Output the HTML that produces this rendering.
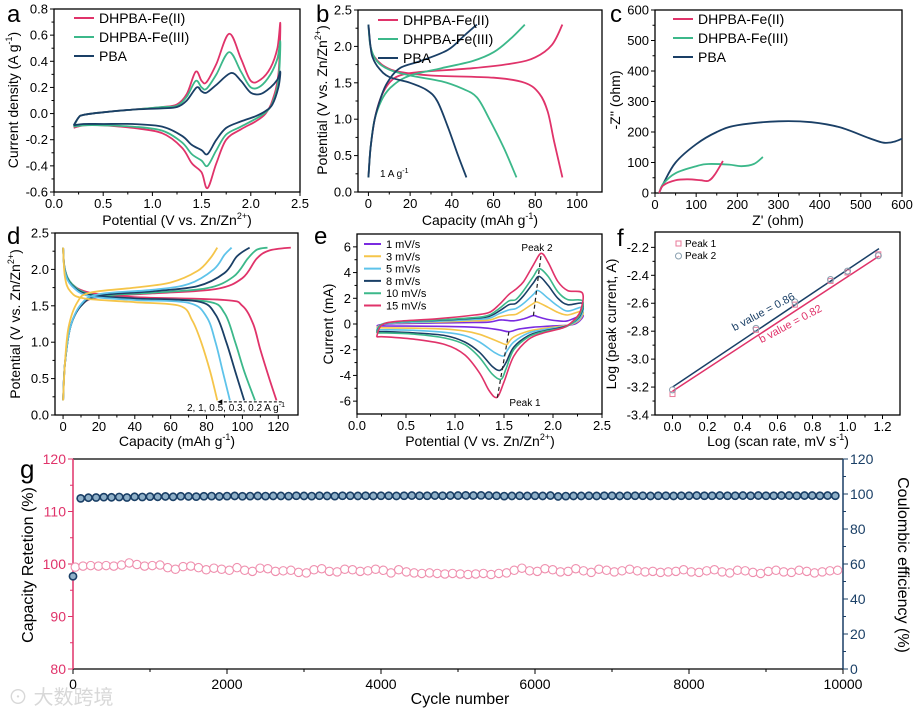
<!DOCTYPE html>
<html><head><meta charset="utf-8"><style>
body{margin:0;background:#fff;}
svg{display:block;font-family:"Liberation Sans","Noto Sans CJK SC",sans-serif;}
</style></head><body>
<svg id="fig" width="915" height="709" viewBox="0 0 915 709" xmlns="http://www.w3.org/2000/svg">
<rect width="915" height="709" fill="#fff"/>
<text x="8" y="704" font-size="20" fill="#d8d8d8">⊙ 大数跨境</text>
</svg>
<script>
const PINK='#e0336a',GREEN='#3cb88a',NAVY='#1a3f66',LBLUE='#5ec3ea',YEL='#f5c54a',PURP='#7a2be0';
// ---- panel a data ----
const aTicksX=[0,0.5,1,1.5,2,2.5], aTicksY=[-0.6,-0.4,-0.2,0,0.2,0.4,0.6,0.8];
const aFe2=[[0.2,-0.1],[0.25,-0.03],[0.3,-0.01],[0.5,0.01],[0.8,0.03],[1.1,0.05],[1.25,0.07],[1.35,0.15],[1.44,0.32],[1.5,0.25],[1.55,0.24],[1.65,0.38],[1.78,0.61],[1.9,0.42],[2.0,0.25],[2.1,0.26],[2.2,0.35],[2.27,0.5],[2.3,0.69],[2.28,0.3],[2.22,0.1],[2.15,0.0],[2.05,-0.06],[1.9,-0.12],[1.75,-0.2],[1.65,-0.38],[1.56,-0.57],[1.5,-0.45],[1.4,-0.38],[1.3,-0.26],[1.1,-0.15],[0.8,-0.11],[0.5,-0.09],[0.3,-0.09],[0.2,-0.11]];
const aFe3=[[0.2,-0.1],[0.25,-0.03],[0.3,-0.01],[0.5,0.01],[0.8,0.03],[1.1,0.05],[1.25,0.06],[1.35,0.13],[1.44,0.25],[1.5,0.2],[1.55,0.19],[1.65,0.3],[1.78,0.47],[1.9,0.32],[2.0,0.2],[2.1,0.21],[2.2,0.3],[2.27,0.42],[2.3,0.55],[2.28,0.25],[2.22,0.08],[2.15,0.01],[2.05,-0.04],[1.9,-0.1],[1.75,-0.16],[1.65,-0.28],[1.56,-0.4],[1.5,-0.36],[1.4,-0.31],[1.3,-0.22],[1.1,-0.13],[0.8,-0.1],[0.5,-0.09],[0.3,-0.09],[0.2,-0.1]];
const aPBA=[[0.2,-0.09],[0.25,-0.03],[0.3,-0.01],[0.5,0.01],[0.8,0.03],[1.1,0.04],[1.25,0.05],[1.35,0.1],[1.45,0.2],[1.5,0.17],[1.55,0.16],[1.65,0.22],[1.8,0.31],[1.9,0.25],[2.0,0.16],[2.1,0.15],[2.2,0.2],[2.27,0.26],[2.3,0.32],[2.28,0.2],[2.22,0.07],[2.15,0.02],[2.05,-0.02],[1.9,-0.06],[1.75,-0.11],[1.65,-0.2],[1.56,-0.31],[1.5,-0.28],[1.4,-0.24],[1.3,-0.17],[1.1,-0.1],[0.8,-0.08],[0.5,-0.08],[0.3,-0.08],[0.2,-0.09]];
// ---- panel b data ----
const bTicksX=[0,20,40,60,80,100], bTicksY=[0,0.5,1,1.5,2,2.5];
const bFe2C=[[0,0.2],[1,0.6],[3,1.0],[6,1.3],[10,1.5],[15,1.6],[25,1.65],[50,1.7],[70,1.77],[80,1.85],[88,2.02],[93,2.3]];
const bFe2D=[[0,2.3],[1,2.0],[3,1.85],[8,1.72],[15,1.65],[30,1.6],[60,1.57],[75,1.5],[82,1.35],[86,1.1],[89,0.7],[93,0.2]];
const bFe3C=[[0,0.2],[1,0.6],[3,1.0],[7,1.3],[12,1.47],[20,1.6],[35,1.7],[50,1.8],[60,1.92],[68,2.1],[75,2.3]];
const bFe3D=[[0,2.3],[1,2.0],[4,1.8],[10,1.68],[20,1.6],[35,1.52],[45,1.42],[52,1.3],[58,1.0],[65,0.6],[71,0.2]];
const bPBAC=[[0,0.2],[1,0.6],[3,1.0],[6,1.3],[9,1.5],[15,1.7],[25,1.8],[38,1.95],[46,2.15],[52,2.3]];
const bPBAD=[[0,2.3],[1,2.0],[2,1.85],[5,1.7],[10,1.58],[20,1.5],[28,1.4],[33,1.25],[38,0.9],[43,0.5],[47,0.2]];
// ---- panel c data ----
const cTicksX=[0,100,200,300,400,500,600], cTicksY=[0,100,200,300,400,500,600];
const cPBA=[[10,0],[20,30],[50,100],[100,160],[150,200],[200,222],[300,235],[380,232],[450,215],[520,180],[555,165],[580,168],[600,178]];
const cFe3=[[10,0],[20,30],[50,65],[100,88],[130,95],[180,93],[210,88],[240,95],[262,118]];
const cFe2=[[10,0],[20,25],[50,42],[80,45],[110,42],[130,40],[145,60],[165,105]];
// ---- panel d data ----
const dTicksX=[0,20,40,60,80,100,120], dTicksY=[0,0.5,1,1.5,2,2.5];
const d02D=[[0,2.3],[1,2.0],[5,1.8],[15,1.68],[40,1.62],[90,1.58],[100,1.5],[106,1.25],[110,0.9],[115,0.5],[119,0.2]];
const d02C=[[0,0.2],[1,0.7],[4,1.2],[10,1.5],[20,1.62],[50,1.67],[85,1.73],[100,1.88],[108,2.15],[115,2.26],[127,2.3]];
const d03D=[[0,2.3],[1,2.0],[5,1.8],[15,1.66],[40,1.6],[80,1.56],[90,1.4],[96,1.0],[101,0.6],[107,0.2]];
const d03C=[[0,0.2],[1,0.7],[4,1.2],[10,1.5],[20,1.63],[50,1.68],[80,1.74],[95,1.9],[103,2.15],[108,2.27],[114,2.3]];
const d05D=[[0,2.3],[1,1.98],[5,1.78],[15,1.65],[40,1.6],[75,1.56],[85,1.38],[91,1.0],[96,0.6],[101,0.2]];
const d05C=[[0,0.2],[1,0.7],[4,1.2],[10,1.5],[20,1.64],[50,1.7],[75,1.77],[90,1.95],[97,2.18],[104,2.3]];
const d1D=[[0,2.3],[1,1.97],[5,1.77],[15,1.63],[40,1.58],[70,1.54],[80,1.35],[85,1.0],[89,0.6],[93,0.2]];
const d1C=[[0,0.2],[1,0.7],[4,1.2],[10,1.52],[20,1.66],[50,1.72],[70,1.8],[84,2.0],[90,2.2],[94,2.3]];
const d2D=[[0,2.3],[1,1.9],[4,1.7],[12,1.6],[40,1.55],[65,1.5],[72,1.3],[77,1.0],[82,0.6],[86,0.2]];
const d2C=[[0,0.2],[1,0.7],[3,1.2],[8,1.55],[15,1.68],[40,1.75],[60,1.82],[75,1.98],[82,2.15],[86,2.3]];
// ---- panel e data ----
const eTicksX=[0,0.5,1,1.5,2,2.5], eTicksY=[-6,-4,-2,0,2,4,6];
const e15=[[0.2,-1.0],[0.25,-0.1],[0.4,0.2],[0.8,0.4],[1.2,0.7],[1.35,0.9],[1.45,1.5],[1.55,2.3],[1.62,2.7],[1.7,3.3],[1.8,4.6],[1.88,5.5],[1.95,4.8],[2.05,3.3],[2.15,2.6],[2.3,2.4],[2.28,1.0],[2.2,0.2],[2.1,-0.3],[1.9,-0.7],[1.75,-1.2],[1.6,-2.5],[1.5,-4.5],[1.43,-5.7],[1.35,-5.2],[1.25,-3.8],[1.1,-2.4],[0.9,-1.6],[0.6,-1.2],[0.3,-1.0],[0.2,-1.0]];
const e10=[[0.2,-0.7],[0.25,-0.05],[0.4,0.15],[0.8,0.3],[1.2,0.5],[1.35,0.7],[1.45,1.2],[1.55,1.8],[1.62,1.9],[1.7,2.6],[1.8,3.7],[1.86,4.3],[1.95,3.7],[2.05,2.5],[2.15,1.9],[2.3,1.8],[2.28,0.8],[2.2,0.1],[2.1,-0.3],[1.9,-0.6],[1.75,-1.0],[1.6,-2.0],[1.52,-3.5],[1.47,-4.3],[1.38,-3.9],[1.25,-2.6],[1.1,-1.6],[0.9,-1.1],[0.6,-0.8],[0.3,-0.7],[0.2,-0.7]];
const e8=[[0.2,-0.6],[0.25,-0.05],[0.4,0.15],[0.8,0.28],[1.2,0.45],[1.35,0.6],[1.45,1.0],[1.55,1.5],[1.62,1.6],[1.7,2.2],[1.8,3.2],[1.86,3.7],[1.95,3.0],[2.05,2.0],[2.15,1.5],[2.3,1.6],[2.28,0.7],[2.2,0.1],[2.1,-0.25],[1.9,-0.55],[1.75,-0.9],[1.6,-1.8],[1.52,-3.0],[1.46,-3.6],[1.38,-3.3],[1.25,-2.2],[1.1,-1.4],[0.9,-0.9],[0.6,-0.7],[0.3,-0.6],[0.2,-0.6]];
const e5=[[0.2,-0.45],[0.25,-0.05],[0.4,0.1],[0.8,0.2],[1.2,0.35],[1.35,0.45],[1.45,0.8],[1.55,1.1],[1.62,1.2],[1.7,1.6],[1.8,2.3],[1.85,2.6],[1.95,2.0],[2.05,1.4],[2.15,1.0],[2.3,1.3],[2.28,0.5],[2.2,0.05],[2.1,-0.2],[1.9,-0.45],[1.75,-0.7],[1.6,-1.4],[1.53,-2.1],[1.49,-2.5],[1.4,-2.2],[1.25,-1.4],[1.1,-0.9],[0.9,-0.65],[0.6,-0.5],[0.3,-0.45],[0.2,-0.45]];
const e3=[[0.2,-0.3],[0.25,-0.05],[0.4,0.08],[0.8,0.15],[1.2,0.25],[1.35,0.3],[1.45,0.55],[1.55,0.7],[1.62,0.75],[1.7,1.1],[1.8,1.6],[1.84,1.7],[1.95,1.3],[2.05,0.9],[2.15,0.7],[2.3,1.0],[2.28,0.4],[2.2,0.0],[2.1,-0.15],[1.9,-0.35],[1.75,-0.55],[1.6,-1.0],[1.55,-1.4],[1.52,-1.6],[1.42,-1.3],[1.25,-0.8],[1.1,-0.55],[0.9,-0.4],[0.6,-0.33],[0.3,-0.3],[0.2,-0.3]];
const e1=[[0.2,-0.15],[0.25,-0.05],[0.4,0.03],[0.8,0.08],[1.2,0.12],[1.35,0.15],[1.45,0.3],[1.5,0.3],[1.6,0.25],[1.7,0.4],[1.8,0.65],[1.85,0.55],[1.95,0.35],[2.05,0.25],[2.15,0.25],[2.3,0.7],[2.28,0.3],[2.2,-0.05],[2.0,-0.15],[1.8,-0.25],[1.65,-0.4],[1.55,-0.6],[1.45,-0.45],[1.3,-0.3],[1.1,-0.22],[0.8,-0.18],[0.5,-0.16],[0.2,-0.15]];
const ePeak2Line=[[1.8,0.65],[1.88,5.5]], ePeak1Line=[[1.55,-0.6],[1.43,-5.8]];
// ---- panel f data ----
const fTicksX=[0,0.2,0.4,0.6,0.8,1.0,1.2], fTicksY=[-3.4,-3.2,-3.0,-2.8,-2.6,-2.4,-2.2];
const fLogRate=[0,0.477,0.699,0.903,1.0,1.176];
const fPeak1=[-3.25,-2.79,-2.61,-2.44,-2.38,-2.25];
const fPeak2=[-3.22,-2.78,-2.59,-2.43,-2.37,-2.26];
const fFit1=[-3.23,0.82], fFit2=[-3.2,0.84];
// ---- panel g data ----
const gTicksX=[0,2000,4000,6000,8000,10000], gTicksL=[80,90,100,110,120], gTicksR=[0,20,40,60,80,100,120];
const gRet=[99.4,99.6,99.7,99.6,99.7,99.6,99.8,100.2,99.9,99.6,99.7,99.8,99.3,99.0,99.5,99.6,99.3,98.9,99.2,99.0,98.8,99.3,98.8,98.6,99.2,99.1,98.6,98.7,98.8,98.4,98.3,98.9,99.1,98.6,98.5,99.0,98.9,98.6,98.7,99.0,98.8,98.3,98.9,98.5,98.3,98.2,98.3,98.2,98.1,98.2,98.1,98.0,98.1,98.2,98.0,98.2,98.3,98.8,99.2,98.7,98.6,99.1,98.9,98.5,98.6,99.1,98.7,98.4,99.0,98.8,98.5,98.7,99.0,98.7,98.5,98.6,98.4,98.5,98.6,98.9,98.5,98.4,98.7,98.9,98.5,98.3,98.8,98.7,98.4,98.2,98.6,98.8,98.5,98.4,98.8,98.6,98.3,98.5,98.7,98.8];
const gCE=[53,97.5,97.9,98.0,98.2,98.1,98.3,98.0,98.4,98.3,98.5,98.4,98.6,98.4,98.7,98.6,98.5,98.7,98.8,98.6,98.8,98.9,98.7,98.8,98.9,98.8,98.9,98.9,98.8,99.0,98.9,98.8,99.0,98.9,98.8,99.0,99.0,98.9,99.0,98.9,99.0,99.0,98.9,99.0,99.1,99.0,99.0,99.1,99.0,99.1,99.1,99.2,99.1,99.2,99.1,99.0,98.8,98.9,99.0,98.9,99.0,98.9,99.1,98.6,98.8,98.9,98.9,99.0,98.9,99.0,99.0,98.9,99.0,99.0,99.0,98.9,99.0,99.0,98.9,99.0,99.0,99.1,99.0,99.0,99.1,99.0,99.0,99.1,99.0,99.1,99.0,99.0,99.1,99.1,99.0,99.1,99.1,99.0,99.1,99.0];
const gStep=100;

const NS='http://www.w3.org/2000/svg';
const svg=document.getElementById('fig');
function el(tag,attrs,parent){const e=document.createElementNS(NS,tag);for(const k in attrs)e.setAttribute(k,attrs[k]);(parent||svg).appendChild(e);return e;}
function txt(s,x,y,size,anchor,parent,fill,rot){const t=el('text',{x:x,y:y,'font-size':size,'text-anchor':anchor||'middle',fill:fill||'#000'},parent);if(rot)t.setAttribute('transform','rotate('+rot+' '+x+' '+y+')');t.innerHTML=s;return t;}
function scale(d0,d1,p0,p1){return v=>p0+(v-d0)/(d1-d0)*(p1-p0);}
function crPath(pts){let d='M'+pts[0][0].toFixed(1)+','+pts[0][1].toFixed(1);for(let i=0;i<pts.length-1;i++){const p0=pts[Math.max(0,i-1)],p1=pts[i],p2=pts[i+1],p3=pts[Math.min(pts.length-1,i+2)];const c1=[p1[0]+(p2[0]-p0[0])/6,p1[1]+(p2[1]-p0[1])/6],c2=[p2[0]-(p3[0]-p1[0])/6,p2[1]-(p3[1]-p1[1])/6];d+='C'+c1[0].toFixed(1)+','+c1[1].toFixed(1)+' '+c2[0].toFixed(1)+','+c2[1].toFixed(1)+' '+p2[0].toFixed(1)+','+p2[1].toFixed(1);}return d;}
function curve(g,data,sx,sy,color,name,w){const p=el('path',{d:crPath(data.map(q=>[sx(q[0]),sy(q[1])])),fill:'none',stroke:color,'stroke-width':w||1.8},g);

return p;}
function axes(name,box,xd,yd,xt,yt,fmtX,fmtY){
 const g=el('g',{});
 
 
 const sx=scale(xd[0],xd[1],box[0],box[2]),sy=scale(yd[0],yd[1],box[3],box[1]);
 const fr=el('rect',{x:box[0],y:box[1],width:box[2]-box[0],height:box[3]-box[1],fill:'none',stroke:'#000','stroke-width':1.3},g);
 
 
 xt.forEach((v,i)=>{const x=sx(v);el('line',{x1:x,x2:x,y1:box[3],y2:box[3]+4,stroke:'#000'},g);
  if(i<xt.length-1){const xm=sx((v+xt[i+1])/2);el('line',{x1:xm,x2:xm,y1:box[3],y2:box[3]+2.5,stroke:'#000'},g);}
  const t=txt(fmtX(v),x,box[3]+16,13,'middle',g);
  
  });
 yt.forEach((v,i)=>{const y=sy(v);el('line',{x1:box[0],x2:box[0]-4,y1:y,y2:y,stroke:'#000'},g);
  if(i<yt.length-1){const ym=sy((v+yt[i+1])/2);el('line',{x1:box[0],x2:box[0]-2.5,y1:ym,y2:ym,stroke:'#000'},g);}
  const t=txt(fmtY(v),box[0]-6,y+4.5,13,'end',g);
  
  });
 return {g,sx,sy};
}
function legend(g,items,x,y,dy,len,size){items.forEach((it,i)=>{const yy=y+i*dy;const l=el('line',{x1:x,x2:x+len,y1:yy,y2:yy,stroke:it[1],'stroke-width':2},g);
 
 
 const t=txt(it[0],x+len+5,yy+size*0.36,size,'start',g);
 
 });}
const f1=v=>v.toFixed(1), f0=v=>String(v);
function label(s,x,y){const t=txt(s,x,y,24,'start');}

// Panel a
let A=axes('panel-a',[54,9,300,192],[0,2.5],[-0.6,0.8],aTicksX,aTicksY,f1,f1);
curve(A.g,aFe2,A.sx,A.sy,PINK,'cv-fe2');curve(A.g,aFe3,A.sx,A.sy,GREEN,'cv-fe3');curve(A.g,aPBA,A.sx,A.sy,NAVY,'cv-pba');
legend(A.g,[['DHPBA-Fe(II)',PINK],['DHPBA-Fe(III)',GREEN],['PBA',NAVY]],74,18,19,20,14);
txt('Potential (V vs. Zn/Zn<tspan font-size="9" dy="-6">2+</tspan><tspan dy="6">)</tspan>',177,225,14);
txt('Current density (A g<tspan font-size="9" dy="-6">-1</tspan><tspan dy="6">)</tspan>',18,100,14,'middle',null,'#000',-90);
label('a',7,22);
// Panel b
let B=axes('panel-b',[358,10,602,192],[-5,112],[0,2.5],bTicksX,bTicksY,f0,f1);
[[bFe2C,PINK],[bFe2D,PINK],[bFe3C,GREEN],[bFe3D,GREEN],[bPBAC,NAVY],[bPBAD,NAVY]].forEach(c=>curve(B.g,c[0],B.sx,B.sy,c[1],'gcd-curve'));
legend(B.g,[['DHPBA-Fe(II)',PINK],['DHPBA-Fe(III)',GREEN],['PBA',NAVY]],378,20,19,20,14);
txt('1 A g<tspan font-size="7" dy="-4">-1</tspan>',380,177,10,'start',B.g);
txt('Capacity (mAh g<tspan font-size="9" dy="-6">-1</tspan><tspan dy="6">)</tspan>',480,225,14);
txt('Potential (V vs. Zn/Zn<tspan font-size="9" dy="-6">2+</tspan><tspan dy="6">)</tspan>',327,100,14,'middle',null,'#000',-90);
label('b',316,22);
// Panel c
let C=axes('panel-c',[655,10,902,193],[0,600],[0,600],cTicksX,cTicksY,f0,f0);
curve(C.g,cPBA,C.sx,C.sy,NAVY,'eis-pba');curve(C.g,cFe3,C.sx,C.sy,GREEN,'eis-fe3');curve(C.g,cFe2,C.sx,C.sy,PINK,'eis-fe2');
legend(C.g,[['DHPBA-Fe(II)',PINK],['DHPBA-Fe(III)',GREEN],['PBA',NAVY]],673,19,19,20,14);
txt("Z' (ohm)",778,225,14);
txt("-Z'' (ohm)",620,100,14,'middle',null,'#000',-90);
label('c',610,22);
// Panel d
let D=axes('panel-d',[55,233,298,415],[-4.5,131],[0,2.5],dTicksX,dTicksY,f0,f1);
[[d02D,PINK],[d02C,PINK],[d03D,GREEN],[d03C,GREEN],[d05D,NAVY],[d05C,NAVY],[d1D,LBLUE],[d1C,LBLUE],[d2D,YEL],[d2C,YEL]].forEach(c=>curve(D.g,c[0],D.sx,D.sy,c[1],'rate-curve'));
el('line',{x1:D.sx(122),x2:D.sx(87),y1:D.sy(0.18),y2:D.sy(0.18),stroke:'#000','stroke-dasharray':'3,2'},D.g);
el('path',{d:'M'+D.sx(86)+','+D.sy(0.18)+'l5,-2.5v5z',fill:'#000'},D.g);
txt('2, 1, 0.5, 0.3, 0.2 A g<tspan font-size="7" dy="-4">-1</tspan>',236,411,10,'middle',D.g);
txt('Capacity (mAh g<tspan font-size="9" dy="-6">-1</tspan><tspan dy="6">)</tspan>',177,446,14);
txt('Potential (V vs. Zn/Zn<tspan font-size="9" dy="-6">2+</tspan><tspan dy="6">)</tspan>',20,324,14,'middle',null,'#000',-90);
label('d',7,244);
// Panel e
let E=axes('panel-e',[357,234,602,414],[0,2.5],[-7,7],eTicksX,eTicksY,f1,f0);
[[e1,PURP],[e3,YEL],[e5,LBLUE],[e8,NAVY],[e10,GREEN],[e15,PINK]].forEach(c=>curve(E.g,c[0],E.sx,E.sy,c[1],'cv-rate-curve',1.6));
[ePeak2Line,ePeak1Line].forEach(l=>el('line',{x1:E.sx(l[0][0]),y1:E.sy(l[0][1]),x2:E.sx(l[1][0]),y2:E.sy(l[1][1]),stroke:'#222','stroke-dasharray':'4,3','stroke-width':1.2},E.g));
legend(E.g,[['1 mV/s',PURP],['3 mV/s',YEL],['5 mV/s',LBLUE],['8 mV/s',NAVY],['10 mV/s',GREEN],['15 mV/s',PINK]],364,244,12.3,17,11);
txt('Peak 2',537,251,10,'middle',E.g);txt('Peak 1',525,406,10,'middle',E.g);
txt('Potential (V vs. Zn/Zn<tspan font-size="9" dy="-6">2+</tspan><tspan dy="6">)</tspan>',480,446,14);
txt('Current  (mA)',333,324,14,'middle',null,'#000',-90);
label('e',314,244);
// Panel f
let F=axes('panel-f',[655,232,900,415],[-0.1,1.3],[-3.4,-2.09],fTicksX,fTicksY,f1,f1);
[[fFit1,PINK],[fFit2,NAVY]].forEach(c=>{const fit=c[0];const l=el('line',{x1:F.sx(0),y1:F.sy(fit[0]),x2:F.sx(1.18),y2:F.sy(fit[0]+fit[1]*1.18),stroke:c[1],'stroke-width':1.5},F.g);
 
 });
fLogRate.forEach((x,i)=>{const s=el('rect',{x:F.sx(x)-2.5,y:F.sy(fPeak1[i])-2.5,width:5,height:5,fill:'none',stroke:'#e87a9a'},F.g);
 
 
 const c=el('circle',{cx:F.sx(x),cy:F.sy(fPeak2[i]),r:3,fill:'none',stroke:'#8aa0b0'},F.g);
 
 });
el('rect',{x:676,y:241,width:5,height:5,fill:'none',stroke:'#e87a9a'},F.g);txt('Peak 1',685,247,10,'start',F.g);
el('circle',{cx:678.5,cy:256,r:3,fill:'none',stroke:'#8aa0b0'},F.g);txt('Peak 2',685,259,10,'start',F.g);
txt('b value = 0.86',765,315,11,'middle',F.g,NAVY,-28);
txt('b value = 0.82',792,327,11,'middle',F.g,PINK,-28);
txt('Log (scan rate, mV s<tspan font-size="9" dy="-6">-1</tspan><tspan dy="6">)</tspan>',778,446,14);
txt('Log (peak current, A)',616,324,14,'middle',null,'#000',-90);
label('f',617,246);
// Panel g
const gb=[73,459,843,669];
const gx=scale(0,10000,gb[0],gb[2]),gl=scale(80,120,gb[3],gb[1]),gr=scale(0,120,gb[3],gb[1]);
const G=el('g',{});


el('line',{x1:gb[0],x2:gb[2],y1:gb[1],y2:gb[1],stroke:'#000','stroke-width':1.3},G);
el('line',{x1:gb[0],x2:gb[2],y1:gb[3],y2:gb[3],stroke:'#000','stroke-width':1.3},G);
el('line',{x1:gb[0],x2:gb[0],y1:gb[1],y2:gb[3],stroke:PINK,'stroke-width':1.5},G);
el('line',{x1:gb[2],x2:gb[2],y1:gb[1],y2:gb[3],stroke:NAVY,'stroke-width':1.5},G);
gTicksX.forEach((v,i)=>{el('line',{x1:gx(v),x2:gx(v),y1:gb[3],y2:gb[3]+5,stroke:'#000'},G);if(i<gTicksX.length-1)el('line',{x1:gx(v+1000),x2:gx(v+1000),y1:gb[3],y2:gb[3]+3,stroke:'#000'},G);txt(String(v),gx(v),gb[3]+20,14,'middle',G);});
gTicksL.forEach((v,i)=>{el('line',{x1:gb[0],x2:gb[0]-5,y1:gl(v),y2:gl(v),stroke:PINK},G);if(i<gTicksL.length-1)el('line',{x1:gb[0],x2:gb[0]-3,y1:gl(v+5),y2:gl(v+5),stroke:PINK},G);txt(String(v),gb[0]-7,gl(v)+5,14,'end',G,PINK);});
gTicksR.forEach((v,i)=>{el('line',{x1:gb[2],x2:gb[2]+5,y1:gr(v),y2:gr(v),stroke:NAVY},G);if(i<gTicksR.length-1)el('line',{x1:gb[2],x2:gb[2]+3,y1:gr(v+10),y2:gr(v+10),stroke:NAVY},G);txt(String(v),gb[2]+7,gr(v)+5,14,'start',G,NAVY);});
gCE.forEach((v,i)=>{const c=el('circle',{cx:gx(i*gStep),cy:gr(v),r:3.6,fill:'#8fb0c8',stroke:NAVY,'stroke-width':1.6},G);
 
 });
gRet.forEach((v,i)=>{const c=el('circle',{cx:gx(i*gStep+30),cy:gl(v),r:4.2,fill:'#fff',stroke:'#ef8fae','stroke-width':1.1},G);
 
 });
txt('Cycle number',460,704,16);
txt('Capacity Retetion (%)',33,565,16,'middle',null,'#000',-90);
txt('Coulombic efficiency (%)',898,565,16,'middle',null,'#000',90);
txt('g',20,478,26,'start');
</script>
</body></html>
